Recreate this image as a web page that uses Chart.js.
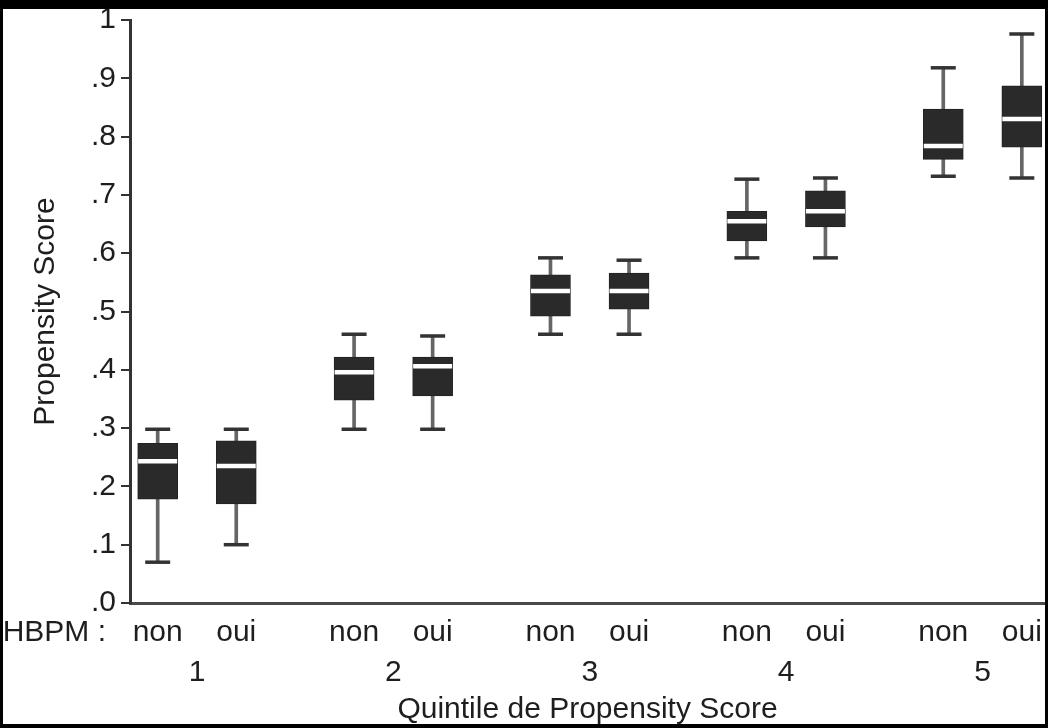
<!DOCTYPE html>
<html>
<head>
<meta charset="utf-8">
<script src="https://cdn.jsdelivr.net/npm/chart.js@4.4.1/dist/chart.umd.min.js"></script>
<style>
  html, body { margin: 0; padding: 0; background: #000; overflow: hidden; }
  #c { position: absolute; left: 0; top: 0; }
</style>
</head>
<body>
<canvas id="c" width="1048" height="728"></canvas>
<script>
// quintiles and HBPM groups
const quintiles = ['1', '2', '3', '4', '5'];
const hbpm = ['non', 'oui'];

// box stats, order: 1 non, 1 oui, 2 non, 2 oui, ...
const mins    = [0.070, 0.100, 0.298, 0.298, 0.461, 0.461, 0.592, 0.592, 0.732, 0.729];
const q1s     = [0.178, 0.170, 0.348, 0.355, 0.492, 0.504, 0.621, 0.645, 0.761, 0.782];
const medians = [0.243, 0.235, 0.396, 0.406, 0.535, 0.535, 0.655, 0.672, 0.784, 0.830];
const q3s     = [0.274, 0.278, 0.422, 0.422, 0.563, 0.566, 0.672, 0.707, 0.847, 0.887];
const maxs    = [0.298, 0.298, 0.461, 0.458, 0.592, 0.588, 0.727, 0.729, 0.918, 0.976];

const yTickLabels = ['.0', '.1', '.2', '.3', '.4', '.5', '.6', '.7', '.8', '.9', '1'];

const FONT = "'Liberation Sans', Arial, sans-serif";
const TXT = '#1e1e1e';
const half = 0.2; // offset of non/oui within a quintile

// x position of each box from its quintile and group
const xs = mins.map((_, i) => Math.floor(i / 2) + 1 + (i % 2 === 0 ? -half : half));
const boxLabels = mins.map((_, i) => hbpm[i % 2]);

const frame = {
  id: 'frame',
  beforeDraw(chart) {
    const ctx = chart.ctx;
    ctx.save();
    ctx.fillStyle = '#fff';
    ctx.fillRect(0, 0, chart.width, chart.height);
    ctx.restore();
  },
  afterDraw(chart) {
    const ctx = chart.ctx;
    const xs0 = chart.scales.x;
    ctx.save();
    ctx.fillStyle = TXT;
    ctx.font = '30px ' + FONT;
    ctx.textAlign = 'right';
    ctx.textBaseline = 'middle';
    ctx.fillText('HBPM :', 106, xs0.top + 11.5 + 18);
    // black border
    ctx.fillStyle = '#000';
    ctx.fillRect(0, 0, chart.width, 9);
    ctx.fillRect(0, 0, 3, chart.height);
    ctx.fillRect(1045, 0, chart.width - 1045, chart.height);
    ctx.fillRect(0, 724, chart.width, chart.height - 724);
    ctx.restore();
  }
};

new Chart(document.getElementById('c'), {
  type: 'bar',
  data: {
    datasets: [
      {
        label: 'whisker',
        data: xs.map((x, i) => ({ x: x, y: [mins[i], maxs[i]] })),
        backgroundColor: '#666',
        barThickness: 3,
        grouped: false,
        order: 4
      },
      {
        label: 'box',
        data: xs.map((x, i) => ({ x: x, y: [q1s[i], q3s[i]] })),
        backgroundColor: '#2a2a2a',
        borderColor: '#222',
        borderWidth: 1,
        borderSkipped: false,
        barThickness: 40,
        grouped: false,
        order: 3
      },
      {
        type: 'scatter',
        label: 'caps',
        data: xs.flatMap((x, i) => [{ x: x, y: mins[i] }, { x: x, y: maxs[i] }]),
        pointStyle: 'line',
        pointRadius: 12.5,
        borderColor: '#333',
        borderWidth: 3.5,
        order: 2
      },
      {
        type: 'scatter',
        label: 'median',
        data: xs.map((x, i) => ({ x: x, y: medians[i] })),
        pointStyle: 'line',
        pointRadius: 19.5,
        borderColor: '#fff',
        borderWidth: 4.5,
        order: 1
      }
    ]
  },
  options: {
    responsive: false,
    animation: false,
    events: [],
    layout: { autoPadding: false, padding: { top: 20, right: 3, left: 0, bottom: 0 } },
    plugins: { legend: { display: false }, tooltip: { enabled: false } },
    scales: {
      x: {
        type: 'linear',
        position: 'bottom',
        min: 0.659,
        max: 5.318,
        offset: false,
        grid: { display: false, drawTicks: false, offset: false },
        border: { display: true, color: '#4a4a4a', width: 3 },
        afterBuildTicks: s => { s.ticks = xs.map(v => ({ value: v })); },
        afterFit: s => { s.height = 50; s.paddingLeft = 0; s.paddingRight = 0; },
        ticks: {
          autoSkip: false,
          maxRotation: 0,
          padding: 11.5,
          color: TXT,
          font: { family: FONT, size: 30 },
          callback: (v, i) => boxLabels[i]
        }
      },
      x2: {
        type: 'linear',
        position: 'bottom',
        min: 0.659,
        max: 5.318,
        offset: false,
        grid: { display: false, drawTicks: false },
        border: { display: false },
        afterBuildTicks: s => { s.ticks = quintiles.map((q, i) => ({ value: i + 1 })); },
        afterFit: s => { s.height = 75; s.paddingLeft = 0; s.paddingRight = 0; },
        ticks: {
          autoSkip: false,
          maxRotation: 0,
          padding: 2,
          color: TXT,
          font: { family: FONT, size: 30 },
          callback: (v, i) => quintiles[i]
        },
        title: {
          display: true,
          text: 'Quintile de Propensity Score',
          color: TXT,
          font: { family: FONT, size: 30 },
          padding: { top: 0, bottom: 0 }
        }
      },
      y: {
        min: 0,
        max: 1,
        afterBuildTicks: s => { s.ticks = yTickLabels.map((t, i) => ({ value: i / 10 })); },
        afterFit: s => { s.width = 130; s.paddingTop = 0; s.paddingBottom = 0; },
        grid: { drawOnChartArea: false, drawTicks: true, tickLength: 9, color: '#333', lineWidth: 2 },
        border: { display: true, color: '#333', width: 3 },
        ticks: {
          padding: 5,
          color: TXT,
          font: { family: FONT, size: 30 },
          callback: (v, i) => yTickLabels[i]
        },
        title: {
          display: true,
          text: 'Propensity Score',
          color: TXT,
          font: { family: FONT, size: 30 },
          padding: { top: 28, bottom: 0 }
        }
      }
    }
  },
  plugins: [frame]
});
</script>
</body>
</html>
